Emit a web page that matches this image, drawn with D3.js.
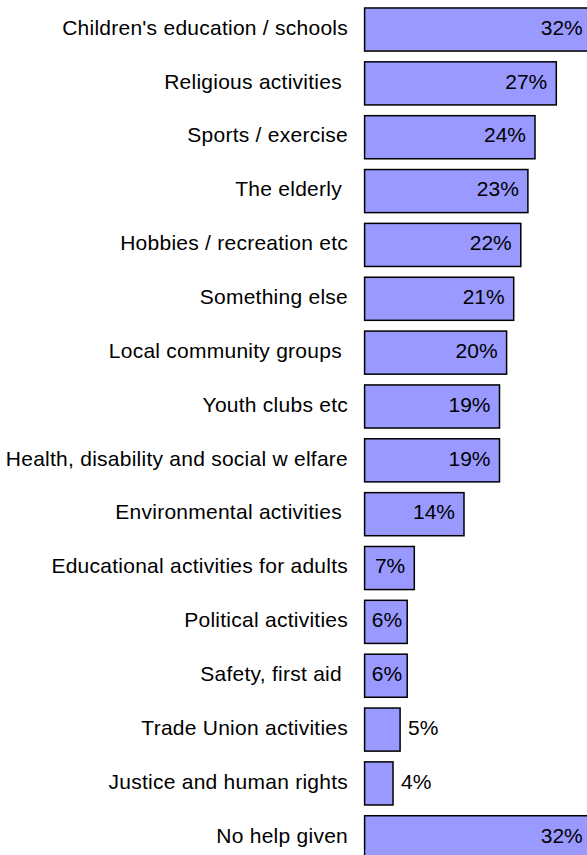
<!DOCTYPE html>
<style>
body { margin: 0; background: #fff; }
svg text { font-family: Arial, "Liberation Sans", sans-serif; font-size: 21px; white-space: pre; }
</style>
<svg width="587" height="855"></svg>
<script src="https://d3js.org/d3.v7.min.js"></script>
<script>

var categories = [
  "Children's education / schools",
  "Religious activities ",
  "Sports / exercise",
  "The elderly ",
  "Hobbies / recreation etc",
  "Something else",
  "Local community groups ",
  "Youth clubs etc",
  "Health, disability and social w elfare",
  "Environmental activities ",
  "Educational activities for adults",
  "Political activities",
  "Safety, first aid ",
  "Trade Union activities",
  "Justice and human rights",
  "No help given"
];
var values = [32, 27, 24, 23, 22, 21, 20, 19, 19, 14, 7, 6, 6, 5, 4, 32];

var svg = d3.select("svg");

var data = categories.map(function(c, i) { return {name: c, value: values[i]}; });

var y = d3.scaleBand()
    .domain(categories)
    .range([2.6, 864.2])
    .paddingInner(0.2)
    .paddingOuter(0.1);

var x = d3.scaleLinear()
    .domain([0, 32])
    .range([364.6, 591.8]);

var row = svg.selectAll("g.row")
  .data(data)
  .enter().append("g")
    .attr("class", "row");

row.append("rect")
    .attr("x", x(0))
    .attr("y", function(d) { return y(d.name); })
    .attr("width", function(d) { return x(d.value) - x(0); })
    .attr("height", y.bandwidth())
    .attr("fill", "#9999ff")
    .attr("stroke", "#000")
    .attr("stroke-width", 1.5);

// category labels
row.append("text")
    .attr("x", 348)
    .attr("y", function(d) { return y(d.name) + y.bandwidth() / 2; })
    .attr("dy", "0.25em")
    .attr("text-anchor", "end")
    .attr("letter-spacing", 0.25)
    .attr("fill", "#000")
    .text(function(d) { return d.name; });

// value labels: inside end, centred when narrow, outside when too small
row.append("text")
    .attr("x", function(d) {
      var w = x(d.value) - x(0);
      if (w < 38) return x(d.value) + 8;
      if (w < 46) return x(0) + w / 2 + 1;
      return x(d.value) - 9;
    })
    .attr("y", function(d) { return y(d.name) + y.bandwidth() / 2; })
    .attr("dy", "0.25em")
    .attr("text-anchor", function(d) {
      var w = x(d.value) - x(0);
      if (w < 38) return "start";
      if (w < 46) return "middle";
      return "end";
    })
    .attr("fill", "#000")
    .text(function(d) { return d.value + "%"; });

</script>
